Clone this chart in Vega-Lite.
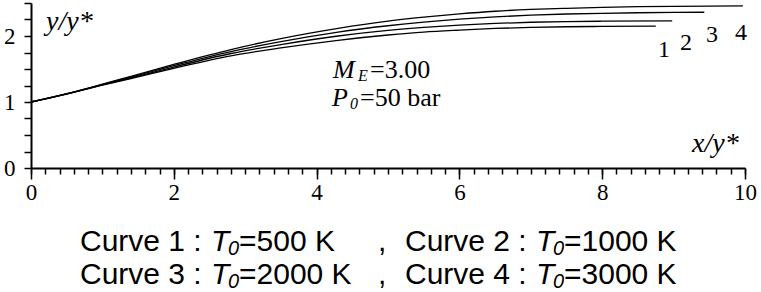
{
  "$schema": "https://vega.github.io/schema/vega-lite/v6.json",
  "autosize": "none",
  "width": 714,
  "height": 165,
  "padding": {"left": 31, "top": 3, "right": 16, "bottom": 124},
  "background": "white",
  "config": {"view": {"stroke": null}},
  "resolve": {"axis": {"x": "independent", "y": "independent"}},
  "datasets": {
    "curves": [
      {"curve": "1", "x": 0, "y": 1}, {"curve": "1", "x": 0.5, "y": 1.12}, {"curve": "1", "x": 1, "y": 1.255}, {"curve": "1", "x": 1.4, "y": 1.355}, {"curve": "1", "x": 2, "y": 1.51}, {"curve": "1", "x": 2.8, "y": 1.7}, {"curve": "1", "x": 3.5, "y": 1.82}, {"curve": "1", "x": 4.3, "y": 1.935}, {"curve": "1", "x": 5, "y": 2.015}, {"curve": "1", "x": 5.5, "y": 2.06}, {"curve": "1", "x": 6, "y": 2.09}, {"curve": "1", "x": 6.5, "y": 2.115}, {"curve": "1", "x": 7, "y": 2.13}, {"curve": "1", "x": 7.5, "y": 2.14}, {"curve": "1", "x": 8, "y": 2.145}, {"curve": "1", "x": 8.75, "y": 2.15},
      {"curve": "2", "x": 0, "y": 1}, {"curve": "2", "x": 0.5, "y": 1.122}, {"curve": "2", "x": 1, "y": 1.26}, {"curve": "2", "x": 1.4, "y": 1.365}, {"curve": "2", "x": 2, "y": 1.53}, {"curve": "2", "x": 2.8, "y": 1.735}, {"curve": "2", "x": 3.5, "y": 1.87}, {"curve": "2", "x": 4.3, "y": 2.0}, {"curve": "2", "x": 5, "y": 2.085}, {"curve": "2", "x": 5.5, "y": 2.13}, {"curve": "2", "x": 6, "y": 2.165}, {"curve": "2", "x": 6.5, "y": 2.19}, {"curve": "2", "x": 7, "y": 2.208}, {"curve": "2", "x": 7.5, "y": 2.218}, {"curve": "2", "x": 8, "y": 2.224}, {"curve": "2", "x": 8.98, "y": 2.23},
      {"curve": "3", "x": 0, "y": 1}, {"curve": "3", "x": 0.5, "y": 1.124}, {"curve": "3", "x": 1, "y": 1.265}, {"curve": "3", "x": 1.4, "y": 1.378}, {"curve": "3", "x": 2, "y": 1.55}, {"curve": "3", "x": 2.8, "y": 1.765}, {"curve": "3", "x": 3.5, "y": 1.915}, {"curve": "3", "x": 4.3, "y": 2.06}, {"curve": "3", "x": 5, "y": 2.155}, {"curve": "3", "x": 5.5, "y": 2.21}, {"curve": "3", "x": 6, "y": 2.255}, {"curve": "3", "x": 6.5, "y": 2.29}, {"curve": "3", "x": 7, "y": 2.316}, {"curve": "3", "x": 7.5, "y": 2.333}, {"curve": "3", "x": 8, "y": 2.344}, {"curve": "3", "x": 8.5, "y": 2.352}, {"curve": "3", "x": 9, "y": 2.357}, {"curve": "3", "x": 9.43, "y": 2.36},
      {"curve": "4", "x": 0, "y": 1}, {"curve": "4", "x": 0.5, "y": 1.126}, {"curve": "4", "x": 1, "y": 1.27}, {"curve": "4", "x": 1.4, "y": 1.39}, {"curve": "4", "x": 2, "y": 1.57}, {"curve": "4", "x": 2.8, "y": 1.795}, {"curve": "4", "x": 3.5, "y": 1.96}, {"curve": "4", "x": 4.3, "y": 2.115}, {"curve": "4", "x": 5, "y": 2.225}, {"curve": "4", "x": 5.5, "y": 2.285}, {"curve": "4", "x": 6, "y": 2.335}, {"curve": "4", "x": 6.5, "y": 2.375}, {"curve": "4", "x": 7, "y": 2.402}, {"curve": "4", "x": 7.5, "y": 2.42}, {"curve": "4", "x": 8, "y": 2.434}, {"curve": "4", "x": 8.5, "y": 2.444}, {"curve": "4", "x": 9, "y": 2.45}, {"curve": "4", "x": 9.5, "y": 2.454}, {"curve": "4", "x": 9.97, "y": 2.455}
    ],
    "texts": [
      {"kind": "num", "x": 8.866, "y": 1.682, "t": "1"},
      {"kind": "num", "x": 9.174, "y": 1.788, "t": "2"},
      {"kind": "num", "x": 9.538, "y": 1.909, "t": "3"},
      {"kind": "num", "x": 9.944, "y": 1.939, "t": "4"},
      {"kind": "title", "x": 0.21, "y": 2.09, "t": "y/y*"},
      {"kind": "title", "x": 9.258, "y": 0.242, "t": "x/y*"},
      {"kind": "sit", "x": 4.23, "y": 1.364, "t": "M"},
      {"kind": "ssub", "x": 4.58, "y": 1.364, "t": "E"},
      {"kind": "sn", "x": 4.748, "y": 1.364, "t": "=3.00"},
      {"kind": "sit", "x": 4.216, "y": 0.94, "t": "P"},
      {"kind": "ssub", "x": 4.468, "y": 0.94, "t": "0"},
      {"kind": "sn", "x": 4.608, "y": 0.94, "t": "=50 bar"},
      {"kind": "an", "x": 0.686, "y": -1.258, "t": "Curve 1 :"},
      {"kind": "ait", "x": 2.52, "y": -1.258, "t": "T"},
      {"kind": "asub", "x": 2.759, "y": -1.258, "t": "0"},
      {"kind": "an", "x": 2.913, "y": -1.258, "t": "=500 K"},
      {"kind": "an", "x": 4.86, "y": -1.258, "t": ","},
      {"kind": "an", "x": 5.238, "y": -1.258, "t": "Curve 2 :"},
      {"kind": "ait", "x": 7.073, "y": -1.258, "t": "T"},
      {"kind": "asub", "x": 7.311, "y": -1.258, "t": "0"},
      {"kind": "an", "x": 7.465, "y": -1.258, "t": "=1000 K"},
      {"kind": "an", "x": 0.686, "y": -1.758, "t": "Curve 3 :"},
      {"kind": "ait", "x": 2.52, "y": -1.758, "t": "T"},
      {"kind": "asub", "x": 2.759, "y": -1.758, "t": "0"},
      {"kind": "an", "x": 2.913, "y": -1.758, "t": "=2000 K"},
      {"kind": "an", "x": 4.86, "y": -1.758, "t": ","},
      {"kind": "an", "x": 5.238, "y": -1.758, "t": "Curve 4 :"},
      {"kind": "ait", "x": 7.073, "y": -1.758, "t": "T"},
      {"kind": "asub", "x": 7.311, "y": -1.758, "t": "0"},
      {"kind": "an", "x": 7.465, "y": -1.758, "t": "=3000 K"}
    ]
  },
  "layer": [
    {
      "data": {"name": "curves"},
      "mark": {"type": "line", "color": "black", "strokeWidth": 1.3, "interpolate": "monotone", "clip": false},
      "encoding": {
        "x": {
          "field": "x", "type": "quantitative",
          "scale": {"domain": [0, 10], "nice": false, "zero": false},
          "axis": {
            "orient": "bottom", "title": null, "grid": false,
            "values": [0, 2, 4, 6, 8, 10],
            "format": "d",
            "tickSize": 11,
            "domainColor": "black", "domainWidth": 2,
            "tickColor": "black", "tickWidth": 1.5,
            "labelFont": "Liberation Serif", "labelFontSize": 23, "labelColor": "black",
            "labelPadding": 2, "labelOverlap": false, "labelFlush": false,
            "labelAngle": 0
          }
        },
        "y": {
          "field": "y", "type": "quantitative",
          "scale": {"domain": [0, 2.5], "nice": false, "zero": false},
          "axis": {
            "orient": "left", "title": null, "grid": false,
            "values": [0, 1, 2],
            "format": "d",
            "tickSize": 7,
            "domainColor": "black", "domainWidth": 2,
            "tickColor": "black", "tickWidth": 1.5,
            "labelFont": "Liberation Serif", "labelFontSize": 23, "labelColor": "black",
            "labelPadding": 9, "labelOverlap": false, "labelFlush": false,
            "labelBaseline": "middle"
          }
        },
        "detail": {"field": "curve"}
      }
    },
    {
      "data": {"name": "texts"},
      "transform": [{"filter": "datum.kind === 'num'"}],
      "mark": {"type": "text", "font": "Liberation Serif", "fontSize": 24, "align": "center", "baseline": "alphabetic", "color": "black", "clip": false},
      "encoding": {
        "x": {"field": "x", "type": "quantitative", "axis": {"orient": "bottom", "title": null, "grid": false, "values": [0,0.2,0.4,0.6,0.8,1,1.2,1.4,1.6,1.8,2,2.2,2.4,2.6,2.8,3,3.2,3.4,3.6,3.8,4,4.2,4.4,4.6,4.8,5,5.2,5.4,5.6,5.8,6,6.2,6.4,6.6,6.8,7,7.2,7.4,7.6,7.8,8,8.2,8.4,8.6,8.8,9,9.2,9.4,9.6,9.8,10], "labels": false, "domain": false, "tickSize": 6, "tickColor": "black", "tickWidth": 1.5}},
        "y": {"field": "y", "type": "quantitative", "axis": {"orient": "left", "title": null, "grid": false, "values": [0.25,0.5,0.75,1.25,1.5,1.75,2.25,2.5], "labels": false, "domain": false, "tickSize": 7, "tickColor": "black", "tickWidth": 1.5}},
        "text": {"field": "t"}
      }
    },
    {
      "data": {"name": "texts"},
      "transform": [{"filter": "datum.kind === 'title'"}],
      "mark": {"type": "text", "font": "Liberation Serif", "fontStyle": "italic", "fontSize": 28, "align": "left", "baseline": "alphabetic", "color": "black"},
      "encoding": {"x": {"field": "x", "type": "quantitative", "axis": null}, "y": {"field": "y", "type": "quantitative", "axis": null}, "text": {"field": "t"}}
    },
    {
      "data": {"name": "texts"},
      "transform": [{"filter": "datum.kind === 'sit'"}],
      "mark": {"type": "text", "font": "Liberation Serif", "fontStyle": "italic", "fontSize": 26, "align": "left", "baseline": "alphabetic", "color": "black"},
      "encoding": {"x": {"field": "x", "type": "quantitative", "axis": null}, "y": {"field": "y", "type": "quantitative", "axis": null}, "text": {"field": "t"}}
    },
    {
      "data": {"name": "texts"},
      "transform": [{"filter": "datum.kind === 'ssub'"}],
      "mark": {"type": "text", "font": "Liberation Serif", "fontStyle": "italic", "fontSize": 16, "align": "left", "baseline": "alphabetic", "dy": 3, "color": "black"},
      "encoding": {"x": {"field": "x", "type": "quantitative", "axis": null}, "y": {"field": "y", "type": "quantitative", "axis": null}, "text": {"field": "t"}}
    },
    {
      "data": {"name": "texts"},
      "transform": [{"filter": "datum.kind === 'sn'"}],
      "mark": {"type": "text", "font": "Liberation Serif", "fontSize": 26, "align": "left", "baseline": "alphabetic", "color": "black"},
      "encoding": {"x": {"field": "x", "type": "quantitative", "axis": null}, "y": {"field": "y", "type": "quantitative", "axis": null}, "text": {"field": "t"}}
    },
    {
      "data": {"name": "texts"},
      "transform": [{"filter": "datum.kind === 'an'"}],
      "mark": {"type": "text", "font": "Liberation Sans", "fontSize": 30, "align": "left", "baseline": "alphabetic", "color": "black", "clip": false},
      "encoding": {"x": {"field": "x", "type": "quantitative", "axis": null}, "y": {"field": "y", "type": "quantitative", "axis": null}, "text": {"field": "t"}}
    },
    {
      "data": {"name": "texts"},
      "transform": [{"filter": "datum.kind === 'ait'"}],
      "mark": {"type": "text", "font": "Liberation Sans", "fontStyle": "italic", "fontSize": 30, "align": "left", "baseline": "alphabetic", "color": "black", "clip": false},
      "encoding": {"x": {"field": "x", "type": "quantitative", "axis": null}, "y": {"field": "y", "type": "quantitative", "axis": null}, "text": {"field": "t"}}
    },
    {
      "data": {"name": "texts"},
      "transform": [{"filter": "datum.kind === 'asub'"}],
      "mark": {"type": "text", "font": "Liberation Sans", "fontStyle": "italic", "fontSize": 20, "align": "left", "baseline": "alphabetic", "dy": 4, "color": "black", "clip": false},
      "encoding": {"x": {"field": "x", "type": "quantitative", "axis": null}, "y": {"field": "y", "type": "quantitative", "axis": null}, "text": {"field": "t"}}
    }
  ]
}
